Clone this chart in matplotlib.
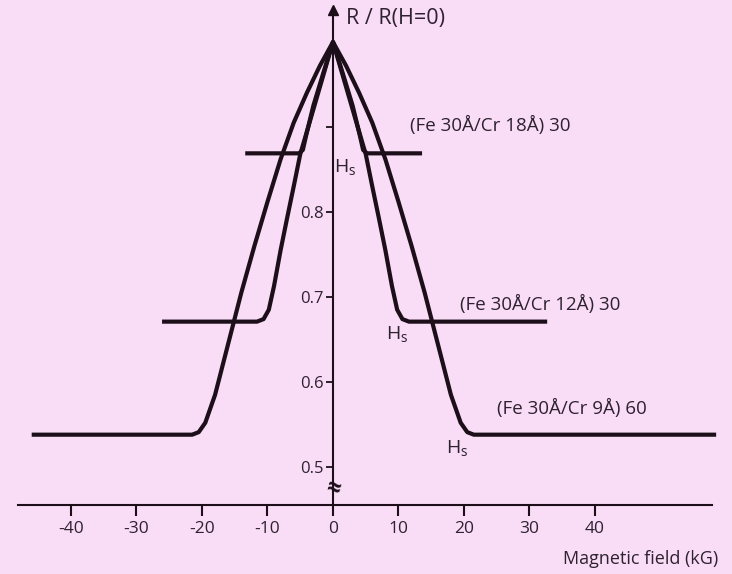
import numpy as np
import matplotlib.pyplot as plt

# data (H in kG, R normalised to R(H=0))
h_cr9 = [-46, -21.5, -20.5, -19.5, -18, -16, -14, -12, -10, -8, -6, -4, -2, 0,
         2, 4, 6, 8, 10, 12, 14, 16, 18, 19.5, 20.5, 21.5, 58.5]
r_cr9 = [0.538, 0.538, 0.541, 0.552, 0.585, 0.645, 0.705, 0.76, 0.812, 0.862, 0.905, 0.94, 0.972, 1.0,
         0.972, 0.94, 0.905, 0.862, 0.812, 0.76, 0.705, 0.645, 0.585, 0.552, 0.541, 0.538, 0.538]

h_cr12 = [-26.1, -11.6, -10.6, -9.8, -9, -8, -7, -6, -5, -3.4, -1.7, 0,
          1.7, 3.4, 5, 6, 7, 8, 9, 9.8, 10.6, 11.6, 32.7]
r_cr12 = [0.671, 0.671, 0.674, 0.685, 0.713, 0.755, 0.793, 0.83, 0.868, 0.91, 0.955, 1.0,
          0.955, 0.91, 0.868, 0.83, 0.793, 0.755, 0.713, 0.685, 0.674, 0.671, 0.671]

h_cr18 = [-13.4, -5.2, -4.6, -4.1, -3.0, -1.5, 0, 1.5, 3.0, 4.1, 4.6, 5.2, 13.6]
r_cr18 = [0.869, 0.869, 0.873, 0.89, 0.925, 0.963, 1.0, 0.963, 0.925, 0.89, 0.873, 0.869, 0.869]

x_ticks = [-40, -30, -20, -10, 0, 10, 20, 30, 40]
y_ticks = [0.5, 0.6, 0.7, 0.8, 0.9]
y_ticklabels = ['0.5', '0.6', '0.7', '0.8', '']

bg = '#f9dcf5'
ink = '#1c0f1a'
txt = '#2e2230'

plt.rcParams['font.family'] = ['Open Sans', 'DejaVu Sans']
plt.rcParams['font.weight'] = 'medium'

fig = plt.figure(figsize=(7.32, 5.74), dpi=100, facecolor=bg)
ax = fig.add_axes([0, 0, 1, 1], facecolor=bg)
ax.set_xlim(-50.84, 60.92)
ax.set_ylim(0.3741, 1.0494)

for h, r in [(h_cr9, r_cr9), (h_cr12, r_cr12), (h_cr18, r_cr18)]:
    ax.plot(h, r, color=ink, lw=3.0, solid_joinstyle='round', solid_capstyle='butt', zorder=3)

#axes crossing at H=0 and R=0.455
for s in ['top', 'right']:
    ax.spines[s].set_visible(False)
ax.spines['left'].set_position(('data', 0))
ax.spines['bottom'].set_position(('data', 0.455))
ax.spines['left'].set_bounds(0.455, 1.04)
ax.spines['bottom'].set_bounds(-48.1, 57.9)
for s in ['left', 'bottom']:
    ax.spines[s].set_color(ink)
    ax.spines[s].set_linewidth(1.5)

ax.set_xticks(x_ticks)
ax.set_xticklabels([str(v) for v in x_ticks])
ax.set_yticks(y_ticks)
ax.set_yticklabels(y_ticklabels)
ax.tick_params(axis='x', direction='out', length=8, width=1.5, color=ink,
               labelsize=12.5, labelcolor=txt, pad=3)
ax.tick_params(axis='y', direction='out', length=5, width=1.3, color=ink,
               labelsize=12, labelcolor=txt, pad=1.5)

#arrow head and axis break
ax.plot(0, 1.038, marker='^', ms=7, color=ink, clip_on=False, zorder=4)
ax.text(0, 0.473, '≈', ha='center', va='center', fontsize=18, color=ink,
        fontweight='bold', rotation=-15, zorder=4)

ax.text(2.0, 1.028, 'R / R(H=0)', fontsize=15.5, color=txt, va='center', ha='left')
ax.text(58.8, 0.392, 'Magnetic field (kG)', fontsize=13, color=txt, va='center', ha='right')

ax.text(11.8, 0.902, '(Fe 30Å/Cr 18Å) 30', fontsize=13.5, color=txt, va='center', ha='left')
ax.text(19.4, 0.691, '(Fe 30Å/Cr 12Å) 30', fontsize=13.5, color=txt, va='center', ha='left')
ax.text(25.0, 0.569, '(Fe 30Å/Cr 9Å) 60', fontsize=13.5, color=txt, va='center', ha='left')

for hx, ry in [(1.9, 0.852), (9.8, 0.655), (18.9, 0.521)]:
    ax.text(hx, ry, 'H$_\\mathregular{s}$', fontsize=14, color=txt, va='center', ha='center')

fig.savefig('out.png', dpi=100, facecolor=bg)
